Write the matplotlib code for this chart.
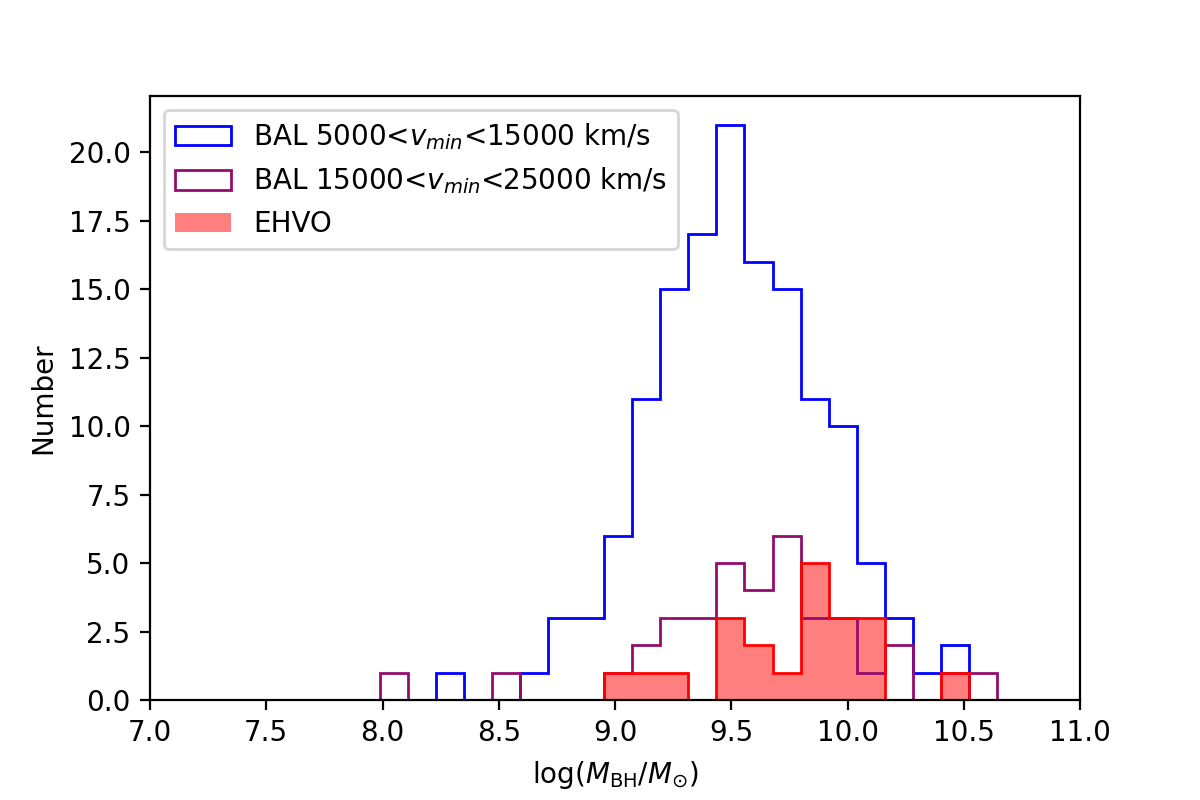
import numpy as np
import matplotlib
matplotlib.use("Agg")
import matplotlib.pyplot as plt

# bin edges shared by the three histograms (log M_BH)
edge_lo = 7.988
edge_hi = 10.643
n_bins = 22
edges = np.linspace(edge_lo, edge_hi, n_bins + 1)

# counts per bin
bal_low = [0, 0, 1, 0, 0, 1, 3, 3, 6, 11, 15, 17, 21, 16, 15, 11, 10, 5, 3, 1, 2, 0]
bal_high = [1, 0, 0, 0, 1, 0, 0, 0, 1, 2, 3, 3, 5, 4, 6, 3, 3, 1, 2, 0, 1, 1]
ehvo = [0, 0, 0, 0, 0, 0, 0, 0, 1, 1, 1, 0, 3, 2, 1, 5, 3, 3, 0, 0, 1, 0]

centers = 0.5 * (edges[:-1] + edges[1:])

fig, ax = plt.subplots(figsize=(6, 4), dpi=200)
fig.subplots_adjust(left=0.125, right=0.9, bottom=0.125, top=0.88)

ax.hist(centers, bins=edges, weights=bal_low, histtype='step', color='blue',
        label=r'BAL 5000<$v_{min}$<15000 km/s')
ax.hist(centers, bins=edges, weights=bal_high, histtype='step', color='#960c6e',
        label=r'BAL 15000<$v_{min}$<25000 km/s')
ax.hist(centers, bins=edges, weights=ehvo, histtype='stepfilled', color='red',
        alpha=0.5, label='EHVO')
ax.hist(centers, bins=edges, weights=ehvo, histtype='step', color='red')

ax.set_xlim(7.0, 11.0)
ax.set_xlabel(r'log($M_{\rm BH}/M_{\odot}$)')
ax.set_ylabel('Number')
ax.legend(loc='upper left')

fig.savefig('out.png')
